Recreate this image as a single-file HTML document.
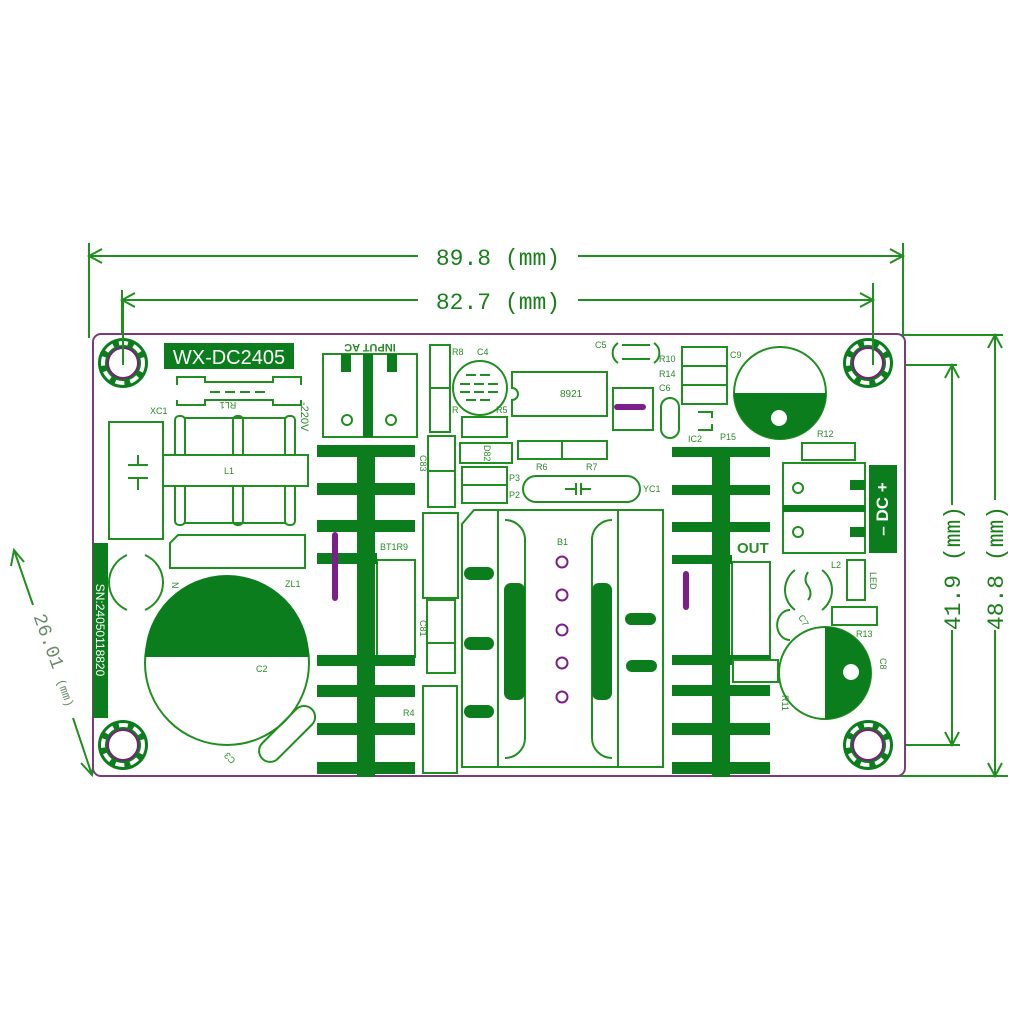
<!DOCTYPE html>
<html><head><meta charset="utf-8"><style>
html,body{margin:0;padding:0;background:#fff;}
svg{display:block;}
text{font-family:"Liberation Sans",sans-serif;}
</style></head><body>
<svg width="1024" height="1024" viewBox="0 0 1024 1024" xmlns="http://www.w3.org/2000/svg">
<defs>
<g id="hole">
<circle r="25" fill="#0b7d1c"/>
<circle r="20" fill="none" stroke="#fff" stroke-width="4" stroke-dasharray="9 6"/>
<circle r="15" fill="#fff" stroke="#7a1f7a" stroke-width="2"/>
</g>
</defs>
<g stroke="#1f8f1f" stroke-width="2" fill="none">
<line x1="89" y1="243" x2="89" y2="338"/>
<line x1="903" y1="243" x2="903" y2="338"/>
<line x1="89" y1="256" x2="418" y2="256"/><line x1="578" y1="256" x2="903" y2="256"/>
<polyline points="102,249 89,256 102,263"/><polyline points="890,249 903,256 890,263"/>
<line x1="122" y1="290" x2="122" y2="365"/>
<line x1="873" y1="283" x2="873" y2="365"/>
<line x1="122" y1="300" x2="418" y2="300"/><line x1="578" y1="300" x2="873" y2="300"/>
<polyline points="135,293 122,300 135,307"/><polyline points="860,293 873,300 860,307"/>
<line x1="870" y1="365" x2="957" y2="365"/><line x1="870" y1="745" x2="960" y2="745"/>
<line x1="952" y1="365" x2="952" y2="505"/><line x1="952" y1="630" x2="952" y2="745"/>
<polyline points="945,378 952,365 959,378"/><polyline points="945,732 952,745 959,732"/>
<line x1="870" y1="335" x2="1003" y2="335"/><line x1="870" y1="776" x2="1008" y2="776"/>
<line x1="995" y1="335" x2="995" y2="500"/><line x1="995" y1="630" x2="995" y2="776"/>
<polyline points="988,348 995,335 1002,348"/><polyline points="988,763 995,776 1002,763"/>
<line x1="14" y1="550" x2="33" y2="605"/><line x1="73" y1="718" x2="92" y2="775"/>
<polyline points="11,566 14,550 24,562"/><polyline points="81,763 92,775 94,759"/>
</g>
<g fill="#1a7f1a" font-size="23" font-family="Liberation Mono, monospace">
<text x="498" y="265" text-anchor="middle" style="font-family:'Liberation Mono',monospace">89.8 (mm)</text>
<text x="498" y="309" text-anchor="middle" style="font-family:'Liberation Mono',monospace">82.7 (mm)</text>
<text transform="translate(960,568) rotate(-90)" text-anchor="middle" style="font-family:'Liberation Mono',monospace">41.9 (mm)</text>
<text transform="translate(1003,568) rotate(-90)" text-anchor="middle" style="font-family:'Liberation Mono',monospace">48.8 (mm)</text>
</g>
<g transform="translate(50,662) rotate(70)" fill="#6a8a6a">
<text x="0" y="0" text-anchor="middle" font-size="19" style="font-family:'Liberation Mono',monospace">26.01 <tspan font-size="12">(mm)</tspan></text>
</g>
<rect x="93" y="334" width="812" height="442" rx="8" fill="#fff" stroke="#7a3d7a" stroke-width="2"/>
<use href="#hole" x="123" y="363"/><use href="#hole" x="868" y="363"/>
<use href="#hole" x="123" y="745"/><use href="#hole" x="868" y="745"/>
<g stroke="#1f8f1f" stroke-width="2">
<line x1="123" y1="300" x2="123" y2="365"/><line x1="873" y1="300" x2="873" y2="365"/>
</g>
<rect x="164" y="343" width="130" height="26" fill="#0b7d1c"/>
<text x="229" y="364" text-anchor="middle" fill="#fff" font-size="20">WX-DC2405</text>
<rect x="93" y="543" width="15" height="175" fill="#0b7d1c"/>
<text transform="translate(96,630) rotate(90)" text-anchor="middle" fill="#fff" font-size="12">SN:24050118820</text>
<g stroke="#1f8f1f" stroke-width="2" fill="none">
<path d="M177,385 v-8 h28 v5 h68 v-5 h28 v8"/>
<path d="M177,400 v5 h28 v-5 h68 v5 h28 v-5"/>
<line x1="210" y1="392" x2="268" y2="392" stroke-dasharray="10 5"/>
<rect x="109" y="422" width="54" height="117"/>
<path d="M128,465 h20 M138,465 v-10 M128,478 h20 M138,478 v12"/>
<rect x="175" y="416" width="10" height="109" rx="4"/><rect x="233" y="416" width="10" height="109" rx="4"/><rect x="285" y="416" width="10" height="109" rx="4"/>
<line x1="185" y1="418" x2="285" y2="418"/><line x1="185" y1="523" x2="285" y2="523"/>
<rect x="163" y="455" width="145" height="31" fill="#fff"/>
<path d="M178,535 h127 v33 h-135 v-25 z"/>
<path d="M127,555 a30,30 0 0 0 0,55 M145,555 a30,30 0 0 1 0,55"/>
<circle cx="227" cy="663" r="82"/>
<rect x="255" y="730" width="70" height="22" rx="11" transform="rotate(-45 280 741)"/>
<rect x="323" y="354" width="94" height="83"/>
<circle cx="347" cy="420" r="5"/><circle cx="391" cy="420" r="5"/>
<rect x="430" y="345" width="20" height="43"/><rect x="430" y="388" width="20" height="44"/>
<rect x="428" y="436" width="27" height="35"/><rect x="428" y="471" width="27" height="36"/>
<rect x="423" y="513" width="35" height="85"/>
<rect x="427" y="600" width="28" height="43"/><rect x="427" y="643" width="28" height="30"/>
<rect x="423" y="686" width="34" height="87"/>
<rect x="377" y="560" width="38" height="97"/>
<circle cx="480" cy="388" r="27"/>
<path d="M466,375 h28 M460,384 h40 M460,392 h40 M466,400 h28" stroke-dasharray="10 4"/>
<path d="M512,372 h95 v44 h-95 v-16 a5,5 0 0 0 0,-12 z"/>
<rect x="462" y="417" width="45" height="20"/>
<rect x="460" y="443" width="52" height="20"/>
<rect x="518" y="441" width="89" height="18"/><line x1="562" y1="441" x2="562" y2="459"/>
<rect x="462" y="467" width="45" height="36"/><line x1="462" y1="485" x2="507" y2="485"/>
<rect x="523" y="476" width="117" height="26" rx="13"/>
<path d="M565,489 h10 M576,483 v12 M581,483 v12 M581,489 h10"/>
<path d="M474,510 h189 v257 h-201 v-243 z"/>
<line x1="498" y1="510" x2="498" y2="767"/><line x1="618" y1="510" x2="618" y2="767"/>
<path d="M505,520 a20,20 0 0 1 20,18 v200 a20,20 0 0 1 -20,20"/>
<path d="M612,520 a20,20 0 0 0 -20,18 v200 a20,20 0 0 0 20,20"/>
<path d="M622,345 h28 M622,359 h28 M618,343 a12,12 0 0 0 0,20 M654,343 a12,12 0 0 1 0,20"/>
<rect x="613" y="388" width="40" height="42"/>
<rect x="661" y="398" width="18" height="40" rx="9"/>
<rect x="682" y="347" width="45" height="57"/><line x1="682" y1="366" x2="727" y2="366"/><line x1="682" y1="385" x2="727" y2="385"/>
<path d="M698,412 h14 v6 M698,430 h14 v-6"/>
<circle cx="780" cy="393" r="46"/>
<rect x="802" y="443" width="53" height="17"/>
<rect x="783" y="463" width="82" height="90"/>
<circle cx="798" cy="488" r="5"/><circle cx="798" cy="532" r="5"/>
<rect x="732" y="562" width="38" height="96"/>
<rect x="847" y="560" width="18" height="40"/>
<rect x="832" y="607" width="45" height="18"/>
<rect x="733" y="660" width="45" height="22"/>
<path d="M795,570 a25,25 0 0 0 0,40 M822,570 a25,25 0 0 1 0,40 M808,572 q-5,8 0,14 q5,8 0,14"/>
<path d="M790,610 a12,14 0 0 0 0,30"/>
<circle cx="825" cy="673" r="46"/>
</g>
<g fill="#0b7d1c">
<path d="M145,657 a82,82 0 0 1 164,0 z"/>
<rect x="363" y="354" width="10" height="83"/><rect x="341" y="354" width="10" height="18"/><rect x="387" y="354" width="10" height="18"/>
<rect x="357" y="445" width="18" height="332"/>
<rect x="317" y="445" width="98" height="12"/><rect x="317" y="483" width="98" height="12"/><rect x="317" y="520" width="98" height="12"/><rect x="317" y="553" width="60" height="11"/>
<rect x="317" y="655" width="98" height="11"/><rect x="317" y="685" width="98" height="12"/><rect x="317" y="723" width="98" height="12"/><rect x="317" y="762" width="98" height="12"/>
<rect x="712" y="447" width="18" height="330"/>
<rect x="672" y="447" width="98" height="10"/><rect x="672" y="485" width="98" height="10"/><rect x="672" y="522" width="98" height="10"/><rect x="672" y="555" width="60" height="9"/>
<rect x="672" y="655" width="98" height="10"/><rect x="672" y="685" width="98" height="11"/><rect x="672" y="723" width="98" height="12"/><rect x="672" y="762" width="98" height="12"/>
<rect x="504" y="583" width="21" height="117" rx="7"/><rect x="592" y="583" width="20" height="117" rx="7"/>
<rect x="464" y="567" width="30" height="13" rx="6.5"/><rect x="464" y="637" width="30" height="13" rx="6.5"/><rect x="464" y="705" width="30" height="13" rx="6.5"/>
<rect x="625" y="613" width="31" height="12" rx="6"/><rect x="626" y="660" width="31" height="12" rx="6"/>
<path d="M734,393 a46,46 0 0 0 92,0 z"/>
<rect x="783" y="505" width="82" height="7"/><rect x="850" y="480" width="15" height="10"/><rect x="850" y="527" width="15" height="10"/>
<rect x="869" y="465" width="28" height="88"/>
<path d="M825,627 a46,46 0 0 1 0,92 z"/>
</g>
<g fill="#fff" stroke="#1f8f1f" stroke-width="2">
<rect x="733" y="660" width="45" height="22"/>
</g>
<circle cx="779" cy="418" r="8" fill="#fff"/>
<circle cx="851" cy="672" r="8" fill="#fff"/>
<text transform="translate(888,509) rotate(-90)" text-anchor="middle" fill="#fff" font-size="17" font-weight="bold">–  DC  +</text>
<g stroke="#7d1f8a" stroke-width="6" stroke-linecap="round">
<line x1="335" y1="535" x2="335" y2="598"/>
<line x1="686" y1="574" x2="686" y2="607"/>
<line x1="617" y1="407" x2="643" y2="407"/>
</g>
<g fill="none" stroke="#7d1f8a" stroke-width="2">
<circle cx="562" cy="562" r="5.5"/><circle cx="562" cy="595" r="5.5"/><circle cx="562" cy="630" r="5.5"/><circle cx="562" cy="663" r="5.5"/><circle cx="562" cy="697" r="5.5"/>
</g>
<g fill="#2a8a2a" font-size="9">
<text x="150" y="414">XC1</text>
<text transform="translate(228,402) rotate(180)" text-anchor="middle">RL1</text>
<text x="224" y="474">L1</text>
<text x="285" y="587">ZL1</text>
<text x="256" y="672">C2</text>
<text transform="translate(172,582) rotate(90)">N</text>
<text transform="translate(236,760) rotate(225)">C3</text>
<text transform="translate(301,402) rotate(90)" font-size="11">-220V</text>
<text x="380" y="550">BT1R9</text>
<text x="403" y="716">R4</text>
<text transform="translate(420,455) rotate(90)">C83</text>
<text transform="translate(420,620) rotate(90)">C81</text>
<text x="452" y="355">R8</text><text x="477" y="355">C4</text>
<text x="452" y="413">R</text><text x="496" y="413">R5</text>
<text transform="translate(484,445) rotate(90)">D82</text>
<text x="509" y="481">P3</text><text x="509" y="498">P2</text>
<text x="536" y="470">R6</text><text x="586" y="470">R7</text>
<text x="643" y="492">YC1</text>
<text x="557" y="545">B1</text>
<text x="595" y="348">C5</text>
<text x="659" y="362">R10</text><text x="659" y="377">R14</text><text x="659" y="391">C6</text>
<text x="730" y="358">C9</text>
<text x="688" y="442">IC2</text><text x="720" y="440">P15</text>
<text x="817" y="437">R12</text>
<text x="831" y="568">L2</text>
<text transform="translate(870,572) rotate(90)">LED</text>
<text x="856" y="637">R13</text>
<text transform="translate(880,658) rotate(90)">C8</text>
<text transform="translate(782,695) rotate(90)">R11</text>
<text transform="translate(798,617) rotate(60)">C7</text>
<text x="560" y="397" font-size="10">8921</text>
</g>
<text transform="translate(370,344) rotate(180)" text-anchor="middle" fill="#2a8a2a" font-size="11" font-weight="bold">INPUT AC</text>
<text x="737" y="553" fill="#2a8a2a" font-size="15" font-weight="bold">OUT</text>
</svg>
</body></html>
